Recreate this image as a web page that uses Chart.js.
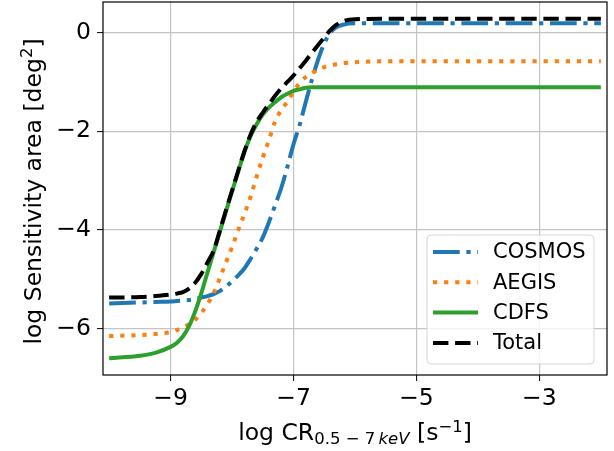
<!DOCTYPE html>
<html>
<head>
<meta charset="utf-8">
<script src="https://cdn.jsdelivr.net/npm/chart.js@4.4.0/dist/chart.umd.min.js"></script>
<style>
  html, body { margin: 0; padding: 0; background: #fff; }
  canvas { display: block; }
</style>
</head>
<body>
<canvas id="chartSensitivity" width="614" height="451"></canvas>
<script>
// log count rate grid (x) and log sensitivity area per field (y)
var logCR = [-10, -9.5, -9.25, -9, -8.9, -8.8, -8.7, -8.6, -8.5, -8.4, -8.3, -8.2, -8.1, -8.0, -7.9, -7.8, -7.7, -7.6,
  -7.5, -7.4, -7.3, -7.2, -7.1, -7.0, -6.9, -6.8, -6.7, -6.6, -6.5, -6.4, -6.3, -6.2, -6.0, -5.5, -2];
var cosmos = [-5.49, -5.47, -5.46, -5.45, -5.44, -5.43, -5.42, -5.40, -5.37, -5.34, -5.30, -5.24, -5.15, -5.04, -4.92, -4.78, -4.59, -4.38,
  -4.15, -3.84, -3.50, -3.15, -2.72, -2.26, -1.87, -1.40, -0.95, -0.55, -0.22, 0.00, 0.11, 0.16, 0.19, 0.19, 0.19];
var aegis = [-6.15, -6.13, -6.11, -6.07, -6.03, -5.98, -5.91, -5.82, -5.68, -5.50, -5.28, -4.98, -4.66, -4.35, -4.00, -3.68, -3.33, -2.92,
  -2.53, -2.18, -1.80, -1.57, -1.40, -1.20, -1.02, -0.90, -0.82, -0.75, -0.70, -0.67, -0.64, -0.62, -0.60, -0.58, -0.58];
var cdfs = [-6.60, -6.55, -6.49, -6.37, -6.29, -6.16, -5.95, -5.65, -5.28, -4.86, -4.45, -4.04, -3.63, -3.22, -2.82, -2.42, -2.10, -1.86,
  -1.66, -1.52, -1.41, -1.31, -1.24, -1.18, -1.15, -1.12, -1.11, -1.11, -1.11, -1.11, -1.11, -1.11, -1.11, -1.11, -1.11];
var total = [-5.37, -5.36, -5.34, -5.31, -5.29, -5.26, -5.19, -5.07, -4.89, -4.66, -4.42, -4.02, -3.60, -3.20, -2.80, -2.41, -2.07, -1.81,
  -1.62, -1.45, -1.28, -1.13, -1.00, -0.87, -0.72, -0.57, -0.41, -0.25, -0.10, 0.05, 0.16, 0.23, 0.27, 0.28, 0.28];

var xTicks = [-9, -7, -5, -3];
var yTicks = [-6, -4, -2, 0];

var FONT = "'DejaVu Sans', sans-serif";
var COLORS = {
  cosmos: "#1f77b4",
  aegis: "#ff7f0e",
  cdfs: "#2ca02c",
  total: "#000000",
  grid: "#c4c4c4",
};

function pts(ys) {
  return logCR.map(function (x, i) { return { x: x, y: ys[i] }; });
}

function minus(v) {
  return v < 0 ? "\u2212" + Math.abs(v) : String(v);
}

// draw a list of text runs (for sub/superscripts), returns width
function runs(ctx, parts, x, y, measureOnly) {
  var w = 0;
  parts.forEach(function (p) {
    ctx.font = (p.italic ? "italic " : "") + p.size + "px " + FONT;
    if (!measureOnly) ctx.fillText(p.text, x + w, y + (p.dy || 0));
    w += ctx.measureText(p.text).width;
  });
  return w;
}

var decorations = {
  id: "decorations",
  afterDatasetsDraw: function (chart) {
    var ctx = chart.ctx, a = chart.chartArea;
    ctx.save();
    ctx.strokeStyle = "#000";
    ctx.lineWidth = 1.2;
    ctx.strokeRect(a.left, a.top, a.right - a.left, a.bottom - a.top);
    ctx.restore();
  },
  afterDraw: function (chart) {
    var ctx = chart.ctx, a = chart.chartArea;
    ctx.save();
    ctx.fillStyle = "#000";
    ctx.textBaseline = "alphabetic";
    ctx.textAlign = "left";

    // x axis title
    var xParts = [
      { text: "log CR", size: 23.5 },
      { text: "0.5 \u2212 7", size: 16.5, dy: 4 },
      { text: "\u2009keV", size: 16.5, dy: 4, italic: true },
      { text: " [s", size: 23.5 },
      { text: "\u22121", size: 16.5, dy: -8 },
      { text: "]", size: 23.5 },
    ];
    var xw = runs(ctx, xParts, 0, 0, true);
    runs(ctx, xParts, (a.left + a.right) / 2 - xw / 2, 440);

    // y axis title
    var yParts = [
      { text: "log Sensitivity area [deg", size: 23.5 },
      { text: "2", size: 16.5, dy: -9 },
      { text: "]", size: 23.5 },
    ];
    var yw = runs(ctx, yParts, 0, 0, true);
    ctx.save();
    ctx.translate(41, (a.top + a.bottom) / 2 + 3);
    ctx.rotate(-Math.PI / 2);
    runs(ctx, yParts, -yw / 2, 0);
    ctx.restore();

    // legend, lower right inside the axes
    var bx = a.right - 180, by = a.bottom - 140, bw = 167, bh = 129, r = 4;
    ctx.beginPath();
    ctx.moveTo(bx + r, by);
    ctx.arcTo(bx + bw, by, bx + bw, by + bh, r);
    ctx.arcTo(bx + bw, by + bh, bx, by + bh, r);
    ctx.arcTo(bx, by + bh, bx, by, r);
    ctx.arcTo(bx, by, bx + bw, by, r);
    ctx.closePath();
    ctx.fillStyle = "rgba(255,255,255,0.8)";
    ctx.fill();
    ctx.strokeStyle = "#d6d6d6";
    ctx.lineWidth = 1;
    ctx.stroke();

    ctx.font = "21px " + FONT;
    ctx.textBaseline = "middle";
    chart.data.datasets.forEach(function (ds, i) {
      var cy = by + 17 + i * 30.3;
      ctx.beginPath();
      ctx.setLineDash(ds.borderDash || []);
      ctx.strokeStyle = ds.borderColor;
      ctx.lineWidth = ds.borderWidth;
      ctx.moveTo(bx + 6, cy);
      ctx.lineTo(bx + 51, cy);
      ctx.stroke();
      ctx.setLineDash([]);
      ctx.fillStyle = "#000";
      ctx.fillText(ds.label, bx + 66, cy + 1);
    });
    ctx.restore();
  },
};

new Chart(document.getElementById("chartSensitivity"), {
  type: "line",
  data: {
    datasets: [
      { label: "COSMOS", data: pts(cosmos), borderColor: COLORS.cosmos, borderDash: [26.7, 6.7, 4.2, 6.7], order: 4 },
      { label: "AEGIS", data: pts(aegis), borderColor: COLORS.aegis, borderDash: [4.2, 6.9], order: 3 },
      { label: "CDFS", data: pts(cdfs), borderColor: COLORS.cdfs, order: 2 },
      { label: "Total", data: pts(total), borderColor: COLORS.total, borderDash: [15.4, 6.7], order: 1 },
    ].map(function (ds) {
      ds.borderWidth = 4;
      ds.pointRadius = 0;
      ds.fill = false;
      ds.cubicInterpolationMode = "monotone";
      return ds;
    }),
  },
  options: {
    responsive: false,
    animation: false,
    layout: { padding: { left: 0, right: 7, top: 2, bottom: 0 } },
    plugins: { legend: { display: false }, tooltip: { enabled: false } },
    scales: {
      x: {
        type: "linear",
        min: -10.1,
        max: -1.9,
        afterFit: function (s) { s.height = 76; s.paddingLeft = 0; s.paddingRight = 0; },
        afterBuildTicks: function (s) { s.ticks = xTicks.map(function (v) { return { value: v }; }); },
        ticks: { font: { size: 23.5, family: FONT }, color: "#000", padding: 4, maxRotation: 0, callback: minus },
        grid: { color: COLORS.grid, lineWidth: 1.2, tickColor: "#000", tickLength: 6, tickWidth: 1 },
        border: { display: false },
      },
      y: {
        min: -6.94,
        max: 0.62,
        afterFit: function (s) { s.width = 103; s.paddingTop = 0; s.paddingBottom = 0; },
        afterBuildTicks: function (s) { s.ticks = yTicks.map(function (v) { return { value: v }; }); },
        ticks: { font: { size: 23.5, family: FONT }, color: "#000", padding: 6, callback: minus },
        grid: { color: COLORS.grid, lineWidth: 1.2, tickColor: "#000", tickLength: 6, tickWidth: 1 },
        border: { display: false },
      },
    },
  },
  plugins: [decorations],
});
</script>
</body>
</html>
